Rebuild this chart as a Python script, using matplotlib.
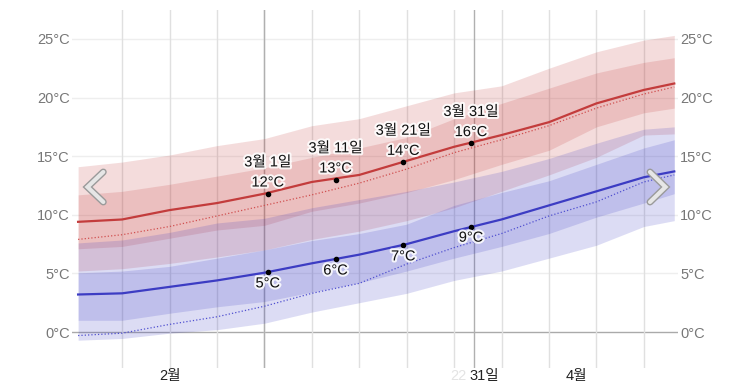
import numpy as np
import matplotlib.pyplot as plt
import matplotlib.patheffects as pe
from matplotlib.lines import Line2D
from matplotlib.transforms import blended_transform_factory

plt.rcParams['font.family'] = ['Liberation Sans', 'Noto Sans CJK KR', 'DejaVu Sans']

# days counted from Feb 1 (= 0) to Apr 30
days = [0.5, 7, 14, 21, 28, 35, 42, 49, 56, 63, 70, 77, 84, 88.5]

# daily high: 10/25/75/90 percentile bands, average, perceived
hi_p90 = [14.1, 14.5, 15.1, 15.9, 16.5, 17.6, 18.2, 19.3, 20.4, 21.0, 22.5, 23.9, 24.9, 25.3]
hi_p75 = [11.7, 12.0, 12.6, 13.3, 14.0, 14.9, 15.7, 16.6, 18.2, 19.5, 20.8, 22.1, 23.0, 23.4]
hi_avg = [9.4, 9.6, 10.4, 11.0, 11.8, 12.8, 13.4, 14.6, 15.8, 16.8, 17.9, 19.5, 20.65, 21.2]
hi_feel = [7.9, 8.3, 9.0, 9.9, 10.8, 11.7, 12.7, 13.9, 15.3, 16.4, 17.6, 19.1, 20.3, 20.9]
hi_p25 = [7.1, 7.3, 8.0, 8.7, 9.1, 10.3, 11.0, 11.9, 13.0, 14.3, 15.5, 17.5, 18.7, 19.1]
hi_p10 = [5.2, 5.4, 5.85, 6.4, 7.0, 7.9, 8.6, 9.5, 10.6, 12.0, 13.4, 14.9, 16.8, 16.9]

# daily low
lo_p90 = [7.6, 7.85, 8.5, 9.3, 9.7, 10.6, 11.3, 12.0, 12.8, 13.7, 14.8, 16.1, 17.3, 17.5]
lo_p75 = [5.05, 5.2, 5.6, 6.3, 7.0, 7.8, 8.4, 9.2, 10.8, 11.9, 12.9, 14.3, 15.7, 16.4]
lo_avg = [3.2, 3.3, 3.85, 4.4, 5.06, 5.86, 6.6, 7.5, 8.6, 9.6, 10.8, 12.0, 13.2, 13.7]
lo_feel = [-0.3, -0.1, 0.65, 1.3, 2.2, 3.3, 4.15, 5.8, 7.2, 8.4, 9.9, 11.1, 12.8, 13.4]
lo_p25 = [1.0, 1.0, 1.6, 2.15, 2.6, 3.4, 4.2, 5.2, 6.3, 7.3, 8.4, 9.8, 11.0, 11.8]
lo_p10 = [-0.7, -0.55, -0.1, 0.2, 0.75, 1.7, 2.5, 3.3, 4.4, 5.2, 6.3, 7.4, 9.0, 9.5]

# marked days
mark_days = [28.5, 38.5, 48.5, 58.5]
mark_dates = ['3월 1일', '3월 11일', '3월 21일', '3월 31일']
mark_hi = [11.8, 13.0, 14.5, 16.1]
mark_lo = [5.1, 6.2, 7.4, 9.0]
mark_hi_lbl = [12, 13, 14, 16]
mark_lo_lbl = [5, 6, 7, 9]

week_lines = list(range(7, 88, 7))
month_lines = [28, 59]
x_labels = ['2월', '31일', '4월']
x_label_pos = [14, 60.4, 74]
y_ticks = [0, 5, 10, 15, 20, 25]

RED = (0.76, 0.2, 0.2)
BLUE = (0.2, 0.2, 0.76)

fig = plt.figure(figsize=(7.53, 3.87), dpi=100)
ax = fig.add_axes([72 / 753, 19 / 387, 606 / 753, 358 / 387])
ax.set_xlim(-0.4, 89.05)
ax.set_ylim(-3.07, 27.47)
for s in ax.spines.values():
    s.set_visible(False)

# grid
for y in y_ticks:
    ax.axhline(y, color='#aaaaaa' if y == 0 else '#eeeeee', lw=1, zorder=0)
for d in week_lines:
    ax.axvline(d, color='#e0e0e0', lw=1, zorder=0)
for d in month_lines:
    ax.axvline(d, color='#b0b0b0', lw=1, zorder=0.5)

# bands
ax.fill_between(days, hi_p10, hi_p90, color=RED, alpha=0.17, lw=0, zorder=1)
ax.fill_between(days, hi_p25, hi_p75, color=RED, alpha=0.17, lw=0, zorder=1)
ax.fill_between(days, lo_p10, lo_p90, color=BLUE, alpha=0.17, lw=0, zorder=1)
ax.fill_between(days, lo_p25, lo_p75, color=BLUE, alpha=0.17, lw=0, zorder=1)

# lines
ax.plot(days, hi_avg, color='#c33c3c', lw=1.6, zorder=3)
ax.plot(days, hi_feel, color='#d05050', lw=0.9, ls=':', zorder=3)
ax.plot(days, lo_avg, color='#3c3cc3', lw=1.6, zorder=3)
ax.plot(days, lo_feel, color='#5050d0', lw=0.9, ls=':', zorder=3)

halo = [pe.withStroke(linewidth=3, foreground='white', alpha=0.85)]
ax.plot(mark_days, mark_hi, 'o', color='black', ms=3, zorder=4)
ax.plot(mark_days, mark_lo, 'o', color='black', ms=3, zorder=4)
for d, h, l, hl, ll, dt in zip(mark_days, mark_hi, mark_lo, mark_hi_lbl, mark_lo_lbl, mark_dates):
    ax.annotate(f'{hl}°C', (d, h), xytext=(0, 3), textcoords='offset points',
                ha='center', va='bottom', fontsize=10.5, color='#111', path_effects=halo, zorder=5)
    ax.annotate(dt, (d, h), xytext=(0, 17.5), textcoords='offset points',
                ha='center', va='bottom', fontsize=10.5, color='#111', path_effects=halo, zorder=5)
    ax.annotate(f'{ll}°C', (d, l), xytext=(0, -3), textcoords='offset points',
                ha='center', va='top', fontsize=10.5, color='#111', path_effects=halo, zorder=5)

# axis labels
ax.set_xticks([])
ax.set_yticks(y_ticks, [f'{v}°C' for v in y_ticks])
ax.tick_params(axis='y', length=0, labelleft=True, labelright=True,
               labelsize=10.5, labelcolor='#777777', pad=1.5)
tr = blended_transform_factory(ax.transData, ax.transAxes)
# faded leftover label next to "31일"
ax.text(57.9, -0.022, '22', transform=tr, ha='right', va='center',
        fontsize=10.5, color='#e4e4e4')
for p, lbl in zip(x_label_pos, x_labels):
    ax.text(p, -0.022, lbl, transform=tr, ha='center', va='center',
            fontsize=10.5, color='#222222')

# navigation chevrons
for xs in ([103.3, 87.5, 103.3], [650, 665.5, 650]):
    fx = [v / 753 for v in xs]
    fy = [1 - 172 / 387, 1 - 187 / 387, 1 - 202 / 387]
    fig.add_artist(Line2D(fx, fy, color='#9a9a9a', lw=5, solid_capstyle='round',
                          solid_joinstyle='miter', zorder=6))
    fig.add_artist(Line2D(fx, fy, color='#e6e6e6', lw=3, solid_capstyle='round',
                          solid_joinstyle='miter', zorder=7))

fig.savefig('out.png', dpi=100)
